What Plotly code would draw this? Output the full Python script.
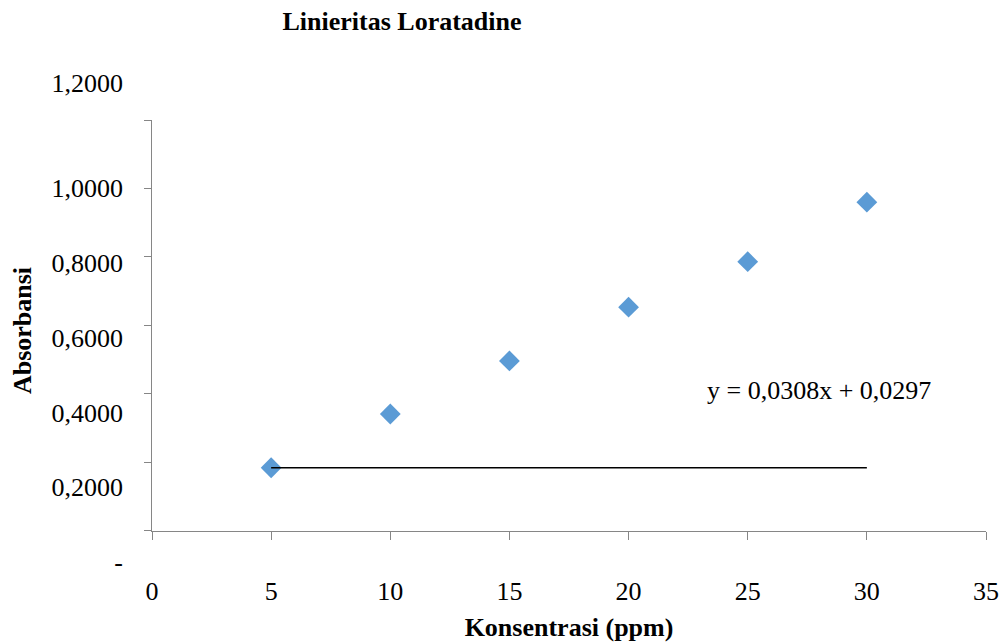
import plotly.graph_objects as go

# ---- data ----
konsentrasi = [5, 10, 15, 20, 25, 30]
absorbansi = [0.184, 0.341, 0.496, 0.653, 0.786, 0.960]
x_ticks = [0, 5, 10, 15, 20, 25, 30, 35]
y_ticks = [0, 0.2, 0.4, 0.6, 0.8, 1.0, 1.2]
y_tick_text = ["-", "0,2000", "0,4000", "0,6000", "0,8000", "1,0000", "1,2000"]
equation = "y = 0,0308x + 0,0297"

FONT = "Liberation Serif"
AXIS_GRAY = "#868686"

fig = go.Figure()

# invisible helper trace so the label axis is drawn
fig.add_trace(go.Scatter(
    x=[0], y=[0], xaxis="x", yaxis="y", mode="markers",
    marker=dict(opacity=0, size=1), showlegend=False, hoverinfo="skip",
))
fig.add_trace(go.Scatter(
    x=konsentrasi, y=absorbansi, mode="markers", xaxis="x", yaxis="y2",
    marker=dict(symbol="diamond", size=16, color="#5B9BD5", line=dict(width=0)),
    showlegend=False, hoverinfo="x+y",
))
# trend line as drawn in the reference (flat at the first point's level)
fig.add_trace(go.Scatter(
    x=[konsentrasi[0], konsentrasi[-1]], y=[absorbansi[0], absorbansi[0]],
    xaxis="x", yaxis="y2",
    mode="lines", line=dict(color="black", width=1.5),
    showlegend=False, hoverinfo="skip",
))

# label axis positions (labels in the reference sit below their tick marks)
label_pos = [0, 0.2, 0.4, 0.6, 0.8, 1.0, 1.283]

fig.update_layout(
    width=1003, height=644,
    margin=dict(l=152, r=17, t=70, b=64, autoexpand=False),
    paper_bgcolor="white", plot_bgcolor="rgba(0,0,0,0)",
    font=dict(family=FONT, size=26, color="black"),
    title=dict(text="<b>Linieritas Loratadine</b>", x=402 / 1003, xref="container", xanchor="center",
               y=1 - 21 / 644, yref="container", yanchor="middle",
               font=dict(family=FONT, size=26, color="black")),
    xaxis=dict(range=[0, 35], tickvals=x_ticks, ticktext=[str(v) for v in x_ticks],
               anchor="y2", domain=[0, 1], automargin=False,
               ticks="outside", ticklen=8, tickcolor=AXIS_GRAY, tickwidth=1,
               showline=True, linecolor=AXIS_GRAY, linewidth=1,
               showgrid=False, zeroline=False, ticklabelstandoff=29,
               tickfont=dict(family=FONT, size=26, color="black"),
               title=dict(text="<b>Konsentrasi (ppm)</b>", standoff=12,
                          font=dict(family=FONT, size=26, color="black"))),
    yaxis2=dict(range=[0, 1.2], domain=[(580 - 530.7) / 510, (580 - 120) / 510],
                anchor="x", automargin=False,
                tickvals=y_ticks, showticklabels=False,
                ticks="outside", ticklen=7, tickcolor=AXIS_GRAY, tickwidth=1,
                showline=True, linecolor=AXIS_GRAY, linewidth=1,
                showgrid=False, zeroline=False),
    yaxis=dict(anchor="x", domain=[0, 1], automargin=False,
               range=[-(580 - 562) / 373.7, (562 - 70) / 373.7],
               tickvals=label_pos, ticktext=y_tick_text,
               ticks="", showline=False, showgrid=False, zeroline=False,
               ticklabelstandoff=28,
               tickfont=dict(family=FONT, size=26, color="black")),
    annotations=[
        dict(text=equation, x=28, y=0.411, xref="x", yref="y2",
             showarrow=False, xanchor="center", yanchor="middle",
             font=dict(family=FONT, size=26, color="black")),
        dict(text="<b>Absorbansi</b>", textangle=-90, x=0, xref="x domain", xshift=-130,
             y=0.486, yref="y2 domain", showarrow=False, xanchor="center", yanchor="middle",
             font=dict(family=FONT, size=26, color="black")),
    ],
)

fig.write_html("out.html", config={"displayModeBar": False},
               post_script="document.body.style.margin='0';")
